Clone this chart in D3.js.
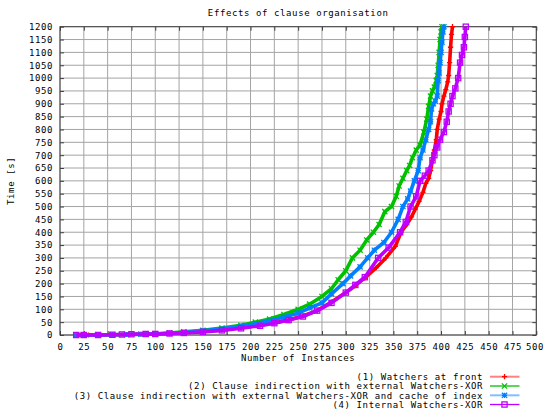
<!DOCTYPE html>
<html><head><meta charset="utf-8">
<script src="https://cdn.jsdelivr.net/npm/d3@7"></script>
<style>
body{margin:0;background:#fff;}
text{font-family:"DejaVu Sans Mono",monospace;font-size:9px;letter-spacing:0.6px;fill:#000;}
</style></head>
<body>
<svg id="c" width="544" height="409"></svg>
<script>
const title = "Effects of clause organisation";
const xLabel = "Number of Instances";
const yLabel = "Time [s]";
const xTicks = [0,25,50,75,100,125,150,175,200,225,250,275,300,325,350,375,400,425,450,475,500];
const yTicks = [0,50,100,150,200,250,300,350,400,450,500,550,600,650,700,750,800,850,900,950,1000,1050,1100,1150,1200];

const seriesNames = [
  "(1) Watchers at front",
  "(2) Clause indirection with external Watchers-XOR",
  "(3) Clause indirection with external Watchers-XOR and cache of index",
  "(4) Internal Watchers-XOR"
];
const seriesColors = ["#ff0000","#00c000","#0080ff","#c000ff"];
const legendColors = ["#ff8080","#00c000","#80c0ff","#c000ff"];
const seriesMarkers = ["plus","cross","star","square"];

// (1) Watchers at front
const s1x = [17,22,30,40,55,70,85,100,115,130,150,170,190,210,225,240,255,270,285,300,310,320,332,342,352,358,364,369,373,377,381,384,387,389,391,393,395,396,398,400,401,403,405,407,408,409,410,411,412];
const s1y = [0,0,0,1,1,2,3,4,6,9,14,20,28,38,48,58,74,95,128,165,192,222,262,300,345,400,430,460,490,520,555,590,610,640,680,720,760,800,840,870,900,930,955,985,1010,1060,1120,1170,1200];
// (2) Clause indirection with external Watchers-XOR
const s2x = [17,25,40,55,70,85,100,115,130,150,170,190,205,220,235,250,262,275,285,292,300,307,315,322,329,335,341,348,353,356,360,364,367,370,374,378,382,385,387,389,391,393,395,396,397,398,399,400,401];
const s2y = [0,0,1,1,2,3,5,8,12,18,27,38,50,62,80,100,120,150,180,215,250,300,330,370,400,430,480,500,540,580,610,640,660,690,720,740,790,840,890,930,950,965,990,1010,1050,1100,1150,1180,1200];
// (3) Clause indirection with external Watchers-XOR and cache of index
const s3x = [17,25,40,55,70,85,100,115,130,150,170,190,205,220,235,250,262,275,285,297,305,315,323,330,340,348,355,360,365,368,372,376,378,381,384,387,389,390,392,394,396,397,398,399,400,401,402,403];
const s3y = [0,0,0,1,2,3,4,7,10,16,24,34,44,55,70,85,105,125,160,200,230,265,300,330,360,400,450,500,530,560,600,640,690,720,760,800,830,880,900,910,930,990,1020,1060,1100,1140,1180,1200];
// (4) Internal Watchers-XOR
const s4x = [17,25,40,55,65,75,90,100,115,130,150,170,190,210,225,240,255,270,285,300,310,320,334,345,357,363,368,374,378,383,387,391,393,396,399,403,406,408,410,412,415,418,420,422,424,425,426];
const s4y = [0,0,0,1,2,3,4,4,6,8,12,18,26,36,46,58,72,95,125,165,195,225,300,340,400,440,500,540,600,620,640,680,700,730,760,790,830,870,900,930,960,1000,1060,1090,1120,1160,1200];

const seriesX = [s1x,s2x,s3x,s4x];
const seriesY = [s1y,s2y,s3y,s4y];

const svg = d3.select("#c");
const L=60, R=536.3, T=26.7, B=335;
const x = d3.scaleLinear().domain([0,500]).range([L,R]);
const y = d3.scaleLinear().domain([0,1200]).range([B,T]);

// grid
const g = svg.append("g");
g.selectAll("line.gx").data(xTicks).join("line")
  .attr("x1",d=>x(d)).attr("x2",d=>x(d)).attr("y1",T).attr("y2",B)
  .attr("stroke","#a4a4a4").attr("stroke-width",1);
g.selectAll("line.gy").data(yTicks).join("line")
  .attr("y1",d=>y(d)).attr("y2",d=>y(d)).attr("x1",L).attr("x2",R)
  .attr("stroke","#a4a4a4").attr("stroke-width",1);

// axes with mirrored ticks
const ax = svg.append("g");
const bottomAxis = ax.append("g").attr("transform",`translate(0,${B})`)
  .call(d3.axisBottom(x).tickValues(xTicks).tickSize(-4).tickPadding(9).tickFormat(d3.format("d")));
ax.append("g").attr("transform",`translate(0,${T})`)
  .call(d3.axisTop(x).tickValues(xTicks).tickSize(-4).tickFormat(""));
ax.append("g").attr("transform",`translate(${L},0)`)
  .call(d3.axisLeft(y).tickValues(yTicks).tickSize(-4).tickPadding(7).tickFormat(d3.format("d")));
ax.append("g").attr("transform",`translate(${R},0)`)
  .call(d3.axisRight(y).tickValues(yTicks).tickSize(-4).tickFormat(""));
ax.selectAll(".domain").remove();
ax.selectAll(".tick line").attr("stroke","#404040");
ax.selectAll(".tick text").attr("font-family","DejaVu Sans Mono").attr("font-size","9px").attr("fill","#000");
// keep the last x label inside the picture
bottomAxis.selectAll(".tick text").filter(d=>d===500).attr("text-anchor","end").attr("dx","7.3");
svg.append("rect").attr("x",L).attr("y",T).attr("width",R-L).attr("height",B-T)
  .attr("fill","none").attr("stroke","#404040").attr("stroke-width",1);

// markers
function marker(sel, type, color){
  const s=2.6;
  if(type==="plus"){
    sel.append("path").attr("d",`M${-s},0H${s}M0,${-s}V${s}`).attr("stroke",color).attr("stroke-width",1.3).attr("fill","none");
  } else if(type==="cross"){
    sel.append("path").attr("d",`M${-s},${-s}L${s},${s}M${-s},${s}L${s},${-s}`).attr("stroke",color).attr("stroke-width",1.3).attr("fill","none");
  } else if(type==="star"){
    sel.append("path").attr("d",`M${-s},0H${s}M0,${-s}V${s}M${-s},${-s}L${s},${s}M${-s},${s}L${s},${-s}`).attr("stroke",color).attr("stroke-width",1.3).attr("fill","none");
  } else {
    sel.append("rect").attr("x",-s).attr("y",-s).attr("width",2*s).attr("height",2*s).attr("stroke",color).attr("stroke-width",1.3).attr("fill","none");
  }
}

const line = d3.line().x(d=>x(d[0])).y(d=>y(d[1]));
const plot = svg.append("g");
seriesX.forEach((xs,i)=>{
  const pts = xs.map((v,j)=>[v,seriesY[i][j]]);
  const sg = plot.append("g");
  sg.append("path").attr("d",line(pts)).attr("fill","none")
    .attr("stroke",seriesColors[i]).attr("stroke-width",3.6).attr("stroke-linejoin","round");
  pts.forEach(p=>{
    const m = sg.append("g").attr("transform",`translate(${x(p[0])},${y(p[1])})`);
    marker(m, seriesMarkers[i], seriesColors[i]);
  });
});

// title and labels
svg.append("text").attr("x",(L+R)/2).attr("y",15.5).attr("text-anchor","middle").text(title);
svg.append("text").attr("x",(L+R)/2).attr("y",361).attr("text-anchor","middle").text(xLabel);
svg.append("text").attr("transform",`translate(14,${(T+B)/2}) rotate(-90)`).attr("text-anchor","middle").text(yLabel);

// legend
const legY = [376.7,386,395.3,404.5];
seriesNames.forEach((n,i)=>{
  svg.append("text").attr("x",483).attr("y",legY[i]+3.2).attr("text-anchor","end").text(n);
  svg.append("line").attr("x1",490).attr("x2",519.5).attr("y1",legY[i]).attr("y2",legY[i])
    .attr("stroke",legendColors[i]).attr("stroke-width",(i===0||i===2)?2:1.3);
  const m = svg.append("g").attr("transform",`translate(504.5,${legY[i]})`);
  marker(m, seriesMarkers[i], seriesColors[i]);
});
</script>
</body></html>
